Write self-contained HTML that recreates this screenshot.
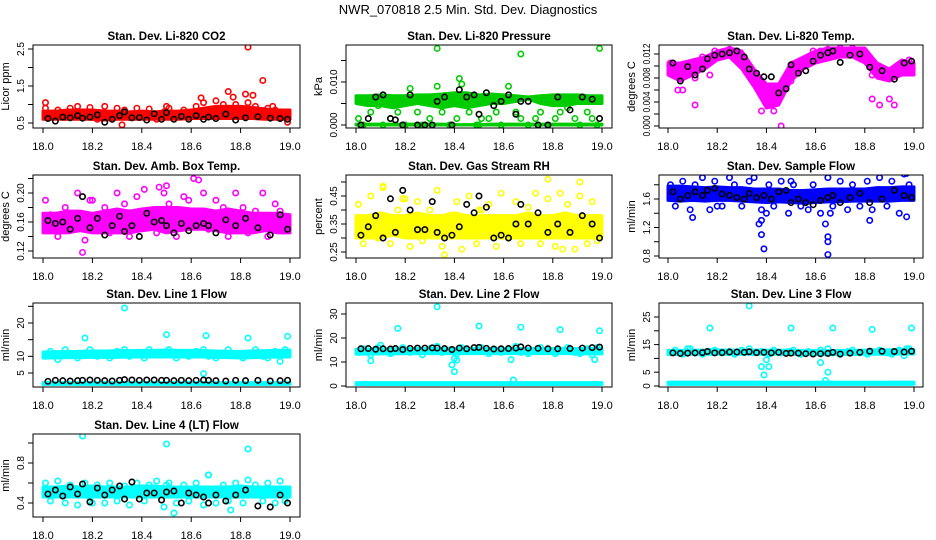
<!DOCTYPE html>
<html><head><meta charset="utf-8"><style>
body{margin:0;background:#fff}
svg{display:block;font-family:"Liberation Sans",sans-serif}
</style></head><body>
<svg id="c" width="936" height="540" viewBox="0 0 936 540">
<text x="468" y="14" text-anchor="middle" font-size="13">NWR_070818  2.5 Min. Std. Dev. Diagnostics</text>
</svg>
<script>
// shared time bases (hours)
const tBand=[18.0,18.05,18.1,18.15,18.2,18.25,18.3,18.35,18.4,18.45,18.5,18.55,18.6,18.65,18.7,18.75,18.8,18.85,18.9,18.95,19.0];
const tColor=[18.01,18.03,18.06,18.09,18.11,18.14,18.17,18.19,18.22,18.25,18.27,18.30,18.33,18.35,18.38,18.41,18.43,18.46,18.49,18.51,18.54,18.57,18.59,18.62,18.65,18.67,18.70,18.73,18.75,18.78,18.81,18.83,18.86,18.89,18.91,18.94,18.96,18.98,18.50,18.20];
const tBlack=[18.02,18.05,18.08,18.11,18.14,18.16,18.19,18.22,18.25,18.28,18.31,18.33,18.36,18.39,18.42,18.45,18.48,18.50,18.53,18.56,18.59,18.62,18.65,18.67,18.70,18.74,18.78,18.82,18.87,18.92,18.96,18.99];
const xTicks=[18.0,18.2,18.4,18.6,18.8,19.0];
const xTickLabels=["18.0","18.2","18.4","18.6","18.8","19.0"];

// CO2
const co2Lo=[0.6,0.6,0.6,0.6,0.6,0.58,0.6,0.6,0.6,0.6,0.6,0.6,0.62,0.62,0.62,0.62,0.62,0.62,0.6,0.6,0.6];
const co2Hi=[0.82,0.82,0.85,0.85,0.85,0.82,0.82,0.8,0.82,0.8,0.82,0.82,0.85,0.9,0.95,0.95,0.95,0.92,0.88,0.85,0.85];
const co2Color=[0.9,0.7,0.85,0.65,0.9,0.95,0.7,0.92,0.6,0.95,0.75,0.9,0.85,0.65,0.9,0.7,0.88,0.6,0.8,0.9,0.7,0.85,0.65,0.95,1.05,0.8,1.1,1.0,0.9,1.0,0.85,1.05,0.95,0.75,0.9,0.85,0.8,0.7,0.95,0.65];
const co2Black=[0.62,0.55,0.66,0.64,0.7,0.63,0.66,0.72,0.52,0.6,0.7,0.8,0.64,0.65,0.58,0.75,0.6,0.78,0.6,0.68,0.6,0.7,0.6,0.66,0.62,0.74,0.58,0.64,0.67,0.63,0.62,0.6];
const co2OutX=[18.01,18.32,18.64,18.75,18.77,18.82,18.83,18.85,18.89,18.93,18.99];
const co2OutY=[1.05,0.45,1.18,1.35,1.2,1.28,2.55,1.25,1.65,0.95,0.52];
// Pressure
const prLo=[0.005,0.0045,0.0045,0.004,0.0045,0.005,0.0045,0.004,0.0045,0.004,0.0045,0.005,0.005,0.0055,0.006,0.005,0.0045,0.0045,0.005,0.005,0.005];
const prHi=[0.0068,0.0068,0.007,0.0068,0.0068,0.007,0.007,0.0072,0.0075,0.0075,0.007,0.0072,0.007,0.0068,0.0065,0.0068,0.007,0.007,0.007,0.0068,0.0068];
const prZeroLo=[0,0,0,0,0,0,0,0,0,0,0,0,0,0,0,0,0,0,0,0,0];
const prZeroHi=[0.0002,0.0002,0.0002,0.0002,0.0002,0.0002,0.0002,0.0002,0.0001,0.0001,0.0001,0.0002,0.0002,0.0002,0.0002,0.0002,0.0002,0.0002,0.0002,0.0002,0.0002];
const prColor=[0.0015,0.0,0.003,0.0045,0.0,0.0015,0.003,0.0,0.0085,0.003,0.0,0.0015,0.009,0.003,0.0,0.0015,0.0095,0.003,0.0,0.0015,0.0015,0.003,0.0,0.009,0.003,0.0015,0.0,0.0015,0.003,0.0,0.0015,0.003,0.004,0.0015,0.0,0.003,0.0015,0.0,0.0,0.0];
const prBlack=[0.0,0.0015,0.0065,0.007,0.0015,0.0012,0.0,0.007,0.0,0.0,0.0,0.0055,0.0065,0.0,0.0082,0.0065,0.007,0.0025,0.0075,0.0045,0.0055,0.007,0.0025,0.0055,0.0055,0.0,0.0,0.0065,0.0035,0.0065,0.006,0.0015];
const prOutX=[18.33,18.67,18.99,18.42];
const prOutY=[0.0178,0.0165,0.0178,0.0108];
// Li-820 Temp
const tmLo=[0.0085,0.0075,0.0085,0.0095,0.011,0.0115,0.0095,0.0065,0.003,0.0035,0.0075,0.0095,0.0105,0.011,0.0115,0.0115,0.0105,0.008,0.0075,0.0085,0.0085];
const tmHi=[0.0105,0.0105,0.011,0.0115,0.0125,0.013,0.0125,0.0095,0.007,0.007,0.0105,0.0115,0.0125,0.013,0.013,0.013,0.013,0.0105,0.0095,0.011,0.0105];
const tmColor=[0.0105,0.009,0.0095,0.0105,0.008,0.0115,0.0085,0.0125,0.012,0.0128,0.0125,0.011,0.0085,0.008,0.0055,0.0045,0.004,0.005,0.009,0.0095,0.0105,0.0115,0.0125,0.0125,0.0128,0.0125,0.013,0.0125,0.013,0.0125,0.011,0.0085,0.0095,0.008,0.009,0.0095,0.0105,0.011,0.0075,0.0115];
const tmBlack=[0.0105,0.0075,0.0099,0.0085,0.0095,0.0112,0.0118,0.012,0.0122,0.0125,0.0115,0.0095,0.0088,0.0082,0.0082,0.0055,0.0062,0.0102,0.0088,0.0092,0.0108,0.0118,0.0122,0.0125,0.0106,0.0118,0.012,0.0098,0.0092,0.0078,0.0105,0.0108];
const tmOutX=[18.11,18.46,18.86,18.83,18.90,18.92,18.04,18.06,18.38,18.43];
const tmOutY=[0.0035,0.0,0.0035,0.0045,0.0045,0.0035,0.006,0.006,0.0025,0.0025];
// Amb box temp
const abLo=[0.145,0.145,0.145,0.148,0.145,0.145,0.145,0.145,0.148,0.15,0.145,0.148,0.15,0.15,0.148,0.145,0.145,0.145,0.148,0.145,0.145];
const abHi=[0.172,0.172,0.175,0.175,0.172,0.175,0.178,0.175,0.178,0.18,0.18,0.18,0.178,0.178,0.175,0.178,0.175,0.172,0.172,0.172,0.17];
const abColor=[0.19,0.17,0.14,0.18,0.155,0.2,0.135,0.19,0.17,0.18,0.145,0.2,0.185,0.14,0.195,0.205,0.175,0.145,0.2,0.185,0.14,0.195,0.19,0.175,0.2,0.15,0.19,0.18,0.14,0.2,0.18,0.145,0.175,0.2,0.14,0.185,0.175,0.15,0.21,0.19];
const abBlack=[0.162,0.158,0.16,0.15,0.165,0.195,0.152,0.165,0.142,0.155,0.168,0.147,0.155,0.14,0.172,0.16,0.162,0.155,0.145,0.158,0.148,0.155,0.158,0.155,0.145,0.163,0.155,0.165,0.152,0.142,0.17,0.15];
const abOutX=[18.61,18.63,18.16,18.47];
const abOutY=[0.22,0.218,0.118,0.208];
// Gas stream RH
const rhLo=[0.3,0.3,0.3,0.31,0.3,0.3,0.3,0.3,0.3,0.3,0.3,0.3,0.3,0.3,0.3,0.3,0.3,0.3,0.3,0.3,0.3];
const rhHi=[0.38,0.38,0.39,0.38,0.38,0.39,0.38,0.38,0.39,0.38,0.38,0.38,0.38,0.38,0.39,0.38,0.38,0.39,0.38,0.38,0.38];
const rhColor=[0.42,0.28,0.45,0.3,0.48,0.28,0.4,0.44,0.27,0.43,0.29,0.4,0.47,0.27,0.38,0.43,0.26,0.45,0.28,0.4,0.42,0.27,0.46,0.3,0.43,0.28,0.41,0.46,0.28,0.44,0.27,0.46,0.42,0.26,0.45,0.28,0.43,0.29,0.4,0.44];
const rhBlack=[0.31,0.34,0.38,0.3,0.44,0.32,0.47,0.4,0.33,0.33,0.43,0.32,0.3,0.31,0.34,0.42,0.39,0.45,0.41,0.3,0.31,0.3,0.35,0.42,0.35,0.39,0.32,0.35,0.32,0.38,0.35,0.3];
const rhOutX=[18.36,18.78,18.91,18.11,18.84];
const rhOutY=[0.24,0.51,0.5,0.485,0.26];
// Sample flow
const sfLo=[1.58,1.57,1.58,1.57,1.58,1.58,1.57,1.56,1.55,1.56,1.55,1.54,1.55,1.56,1.56,1.57,1.57,1.57,1.57,1.58,1.58];
const sfHi=[1.78,1.78,1.77,1.76,1.77,1.76,1.76,1.74,1.74,1.74,1.72,1.72,1.73,1.74,1.74,1.74,1.74,1.76,1.76,1.77,1.77];
const sfColor=[1.8,1.5,1.85,1.45,1.8,1.9,1.45,1.85,1.5,1.9,1.8,1.5,1.85,1.9,1.45,1.8,1.5,1.85,1.4,1.8,1.5,1.45,1.8,1.4,1.9,1.5,1.85,1.45,1.8,1.5,1.85,1.45,1.9,1.5,1.85,1.4,1.95,1.8,1.85,1.5];
const sfBlack=[1.7,1.6,1.65,1.7,1.65,1.72,1.75,1.67,1.65,1.62,1.6,1.68,1.62,1.65,1.6,1.7,1.72,1.55,1.6,1.55,1.52,1.58,1.62,1.65,1.55,1.62,1.68,1.55,1.6,1.72,1.65,1.62];
const sfOutX=[18.1,18.37,18.38,18.39,18.38,18.65,18.65,18.65,18.64,18.82,18.97,18.97,18.40,18.66];
const sfOutY=[1.34,1.25,1.1,0.9,1.3,0.82,1.0,1.07,1.25,1.3,1.35,1.96,1.4,1.4];
// Line 1 flow
const l1Lo=[9.5,9.5,9.6,9.6,9.7,9.7,9.7,9.8,9.8,9.8,9.8,9.8,9.8,9.8,9.7,9.6,9.5,9.6,9.7,9.8,9.8];
const l1Hi=[11.3,11.4,11.4,11.5,11.6,11.6,11.7,11.7,11.8,11.8,11.9,11.8,11.8,11.7,11.6,11.5,11.5,11.6,11.7,11.8,11.9];
const l1ZeroLo=[1.6,1.6,1.6,1.6,1.6,1.6,1.6,1.6,1.6,1.6,1.6,1.6,1.6,1.6,1.6,1.6,1.6,1.6,1.6,1.6,1.6];
const l1ZeroHi=[2.1,2.1,2.1,2.1,2.1,2.1,2.1,2.1,2.1,2.1,2.1,2.1,2.1,2.1,2.1,2.1,2.1,2.1,2.1,2.1,2.1];
const l1Color=[10,11.5,9,12,10.5,9.5,11,12,10,11,9.5,11.5,12,10,11,9.5,12,10.5,11,12,9.5,11,10,11.5,12,10,9.5,11,12,10.5,9.5,11,12,10,9.5,11.5,8.5,12,10.5,11];
const l1Black=[2.5,2.8,2.7,2.6,2.7,2.8,2.9,2.8,2.7,2.6,2.8,3.0,2.9,2.8,2.9,2.9,2.8,2.8,2.7,2.8,2.7,2.8,2.9,2.8,2.7,2.6,2.8,2.7,2.8,2.6,2.7,2.8];
const l1OutX=[18.33,18.17,18.5,18.66,18.83,18.99,18.65];
const l1OutY=[24.5,15.5,16.5,16.2,15.5,16,4.8];
// Line 2 flow
const l2Lo=[13.3,13.3,13.4,13.4,13.5,13.5,13.5,13.5,13.5,13.5,13.5,13.5,13.5,13.5,13.5,13.5,13.5,13.5,13.5,13.4,13.4];
const l2Hi=[15.3,15.4,15.4,15.5,15.5,15.6,15.6,15.6,15.6,15.6,15.6,15.6,15.6,15.6,15.6,15.6,15.6,15.6,15.6,15.6,15.6];
const l2ZeroLo=[0.6,0.6,0.6,0.6,0.6,0.6,0.6,0.6,0.6,0.6,0.6,0.6,0.6,0.6,0.6,0.6,0.6,0.6,0.6,0.6,0.6];
const l2ZeroHi=[1.4,1.4,1.4,1.4,1.4,1.4,1.4,1.4,1.4,1.4,1.4,1.4,1.4,1.4,1.4,1.4,1.4,1.4,1.4,1.4,1.4];
const l2Color=[14,15.5,13,16,14.5,13.5,15,16,14,15,13,15.5,16.5,14,15,13.5,16,14.5,15,16,13.5,15,14,15.5,16.5,14,13.5,15,16,14.5,13.5,15,16,14,13.5,15.5,13,16,14.5,15];
const l2Black=[15.5,15.6,15.3,15.5,15.4,15.6,15.2,15.7,15.8,15.8,15.9,15.8,15.6,15.2,15.8,15.5,16,16.1,15.7,15.4,15.5,15.6,15.8,16.3,15.8,15.7,15.5,15.5,15.6,15.8,16,16.2];
const l2OutX=[18.33,18.17,18.5,18.67,18.83,18.99,18.06,18.39,18.40,18.40,18.41,18.63,18.64,18.97,18.10];
const l2OutY=[33,24,25,24.5,23.5,23,10.5,8.8,6,11.5,10.8,11,2.5,11,17];
// Line 3 flow
const l3Lo=[11.4,11.4,11.5,11.5,11.5,11.5,11.5,11.5,11.5,11.5,11.4,11.4,11.3,11.3,11.4,11.4,11.5,11.5,11.5,11.6,11.6];
const l3Hi=[12.9,12.9,13,13,13,13,13,13,13,13,12.9,12.8,12.8,12.8,12.9,12.9,13,13.1,13.1,13.2,13.2];
const l3ZeroLo=[0.6,0.6,0.6,0.6,0.6,0.6,0.6,0.6,0.6,0.6,0.6,0.6,0.6,0.6,0.6,0.6,0.6,0.6,0.6,0.6,0.6];
const l3ZeroHi=[1.4,1.4,1.4,1.4,1.4,1.4,1.4,1.4,1.4,1.4,1.4,1.4,1.4,1.4,1.4,1.4,1.4,1.4,1.4,1.4,1.4];
const l3Color=[12,13,11.5,13.5,12,11.5,12.5,13,12,12.5,11.5,13,13.5,12,12.5,11.5,13,12,12.5,13,11.5,12.5,12,13,13.5,12,11.5,12.5,13,12,11.5,12.5,13,12,11.5,13,11,13.5,12,12.5];
const l3Black=[12,11.8,11.9,12,12.1,12.5,12,12.1,12.3,12.3,12.2,12.4,12.1,12.2,12,12.2,11.8,11.9,11.9,11.7,11.6,11.7,11.8,12.2,11.6,11.9,12.2,12.6,12.6,12.5,12.3,12.6];
const l3OutX=[18.33,18.17,18.5,18.67,18.83,18.99,18.38,18.39,18.40,18.41,18.62,18.65,18.64,18.08,18.97];
const l3OutY=[29,21,21,21,20.5,21,7,4,9.5,7,8.5,5,2,13.5,13.5];
// Line 4 (LT) flow
const l4Lo=[0.46,0.46,0.46,0.46,0.46,0.46,0.46,0.46,0.46,0.46,0.46,0.46,0.46,0.46,0.46,0.46,0.46,0.46,0.46,0.46,0.46];
const l4Hi=[0.56,0.56,0.57,0.56,0.57,0.56,0.56,0.56,0.57,0.57,0.56,0.56,0.56,0.56,0.56,0.56,0.57,0.56,0.56,0.56,0.56];
const l4Color=[0.6,0.42,0.62,0.4,0.58,0.38,0.6,0.42,0.58,0.4,0.6,0.42,0.57,0.38,0.6,0.42,0.58,0.62,0.36,0.6,0.4,0.58,0.42,0.6,0.38,0.68,0.4,0.58,0.42,0.6,0.4,0.63,0.58,0.42,0.6,0.4,0.62,0.42,0.58,0.4];
const l4Black=[0.49,0.53,0.47,0.56,0.49,0.59,0.41,0.55,0.48,0.53,0.57,0.44,0.61,0.44,0.5,0.5,0.43,0.51,0.52,0.4,0.5,0.48,0.46,0.4,0.48,0.42,0.48,0.53,0.37,0.36,0.48,0.4];
const l4OutX=[18.16,18.5,18.83,18.53,18.76,18.67];
const l4OutY=[1.07,0.99,0.94,0.3,0.33,0.68];

const cols=[{l:33,r:300,x0:43,x1:290},{l:346,r:612,x0:356,x1:602},{l:659,r:923,x0:668,x1:914}];
const rows=[{t:45,b:128},{t:175,b:258},{t:303,b:387},{t:434,b:517}];
const panels=[
 {name:"co2",title:"Stan. Dev. Li-820 CO2",yl:"Licor ppm",c:0,r:0,color:"#ff0000",v0:0.5,p0:123,v1:2.5,p1:49,ticks:[0.5,1,1.5,2,2.5],labs:["0.5","","1.5","","2.5"],lo:co2Lo,hi:co2Hi,col:co2Color,blk:co2Black,ox:co2OutX,oy:co2OutY},
 {name:"pressure",title:"Stan. Dev. Li-820 Pressure",yl:"kPa",c:1,r:0,color:"#00cc00",v0:0,p0:125,v1:0.01,p1:82,ticks:[0,0.005,0.01,0.015],labs:["0.000","","0.010",""],lo:prLo,hi:prHi,zlo:prZeroLo,zhi:prZeroHi,col:prColor,blk:prBlack,ox:prOutX,oy:prOutY},
 {name:"li820-temp",title:"Stan. Dev. Li-820 Temp.",yl:"degrees C",c:2,r:0,color:"#ff00ff",v0:0,p0:126,v1:0.012,p1:54,ticks:[0,0.002,0.004,0.006,0.008,0.01,0.012],labs:["0.000","","0.004","","0.008","","0.012"],narrow:true,lo:tmLo,hi:tmHi,col:tmColor,blk:tmBlack,ox:tmOutX,oy:tmOutY},
 {name:"amb-box-temp",title:"Stan. Dev. Amb. Box Temp.",yl:"degrees C",c:0,r:1,color:"#ff00ff",v0:0.12,p0:251,v1:0.2,p1:193,ticks:[0.12,0.14,0.16,0.18,0.2,0.22],labs:["0.12","","0.16","","0.20",""],lo:abLo,hi:abHi,col:abColor,blk:abBlack,ox:abOutX,oy:abOutY},
 {name:"gas-stream-rh",title:"Stan. Dev. Gas Stream RH",yl:"percent",c:1,r:1,color:"#ffff00",v0:0.25,p0:252,v1:0.45,p1:196,ticks:[0.25,0.3,0.35,0.4,0.45,0.5],labs:["0.25","","0.35","","0.45",""],lo:rhLo,hi:rhHi,col:rhColor,blk:rhBlack,ox:rhOutX,oy:rhOutY},
 {name:"sample-flow",title:"Stan. Dev. Sample Flow",yl:"ml/min",c:2,r:1,color:"#0000ff",v0:0.8,p0:256,v1:1.6,p1:199,ticks:[0.8,1.0,1.2,1.4,1.6,1.8],labs:["0.8","","1.2","","1.6",""],lo:sfLo,hi:sfHi,col:sfColor,blk:sfBlack,ox:sfOutX,oy:sfOutY},
 {name:"line1-flow",title:"Stan. Dev. Line 1 Flow",yl:"ml/min",c:0,r:2,color:"#00ffff",v0:5,p0:373,v1:20,p1:323,ticks:[5,10,15,20,25],labs:["5","10","","20",""],lo:l1Lo,hi:l1Hi,zlo:l1ZeroLo,zhi:l1ZeroHi,col:l1Color,blk:l1Black,ox:l1OutX,oy:l1OutY},
 {name:"line2-flow",title:"Stan. Dev. Line 2 Flow",yl:"ml/min",c:1,r:2,color:"#00ffff",v0:0,p0:386,v1:30,p1:314,ticks:[0,10,20,30],labs:["0","10","20","30"],lo:l2Lo,hi:l2Hi,zlo:l2ZeroLo,zhi:l2ZeroHi,col:l2Color,blk:l2Black,ox:l2OutX,oy:l2OutY},
 {name:"line3-flow",title:"Stan. Dev. Line 3 Flow",yl:"ml/min",c:2,r:2,color:"#00ffff",v0:0,p0:386,v1:25,p1:317,ticks:[0,5,10,15,20,25],labs:["0","5","","15","","25"],lo:l3Lo,hi:l3Hi,zlo:l3ZeroLo,zhi:l3ZeroHi,col:l3Color,blk:l3Black,ox:l3OutX,oy:l3OutY},
 {name:"line4-flow",title:"Stan. Dev. Line 4 (LT) Flow",yl:"ml/min",c:0,r:3,color:"#00ffff",v0:0.4,p0:503,v1:0.8,p1:463,ticks:[0.4,0.6,0.8,1.0],labs:["0.4","","0.8",""],lo:l4Lo,hi:l4Hi,col:l4Color,blk:l4Black,ox:l4OutX,oy:l4OutY}
];
const NS="http://www.w3.org/2000/svg";
const svg=document.getElementById('c');
function mk(tag,attrs,parent,txt){const e=document.createElementNS(NS,tag);for(const k in attrs)e.setAttribute(k,attrs[k]);if(txt!==undefined)e.textContent=txt;parent.appendChild(e);return e;}
panels.forEach(p=>{
 const C=cols[p.c],R=rows[p.r];
 const xs=t=>C.x0+(t-18)*(C.x1-C.x0);
 const ys=v=>p.p0+(v-p.v0)*(p.p1-p.p0)/(p.v1-p.v0);
 const g=mk('g',{},svg);
 
 
 const clipId='clip-'+p.name;
 const cp=mk('clipPath',{id:clipId},g);
 mk('rect',{x:C.l,y:R.t,width:C.r-C.l,height:R.b-R.t},cp);
 const plot=mk('g',{'clip-path':'url(#'+clipId+')'},g);
 function band(lo,hi,nm){
  let pts=tBand.map((t,i)=>xs(t)+','+ys(hi[i]));
  for(let i=tBand.length-1;i>=0;i--)pts.push(xs(tBand[i])+','+ys(lo[i]));
  const e=mk('polygon',{points:pts.join(' '),fill:p.color,stroke:p.color,'stroke-width':3,'stroke-linejoin':'round'},plot);
  
  
 }
 band(p.lo,p.hi,p.name+'-dense-band');
 if(p.zlo)band(p.zlo,p.zhi,p.name+'-baseline-band');
 function pt(x,y,color,nm){
  const e=mk('circle',{cx:xs(x),cy:ys(y),r:2.7,fill:'none',stroke:color,'stroke-width':1.6},plot);
  
  
 }
 p.col.forEach((v,i)=>pt(tColor[i],v,p.color,p.name+'-point'));
 p.ox.forEach((x,i)=>pt(x,p.oy[i],p.color,p.name+'-outlier'));
 p.blk.forEach((v,i)=>pt(tBlack[i],v,'#000',p.name+'-avg-point'));
 const box=mk('rect',{x:C.l,y:R.t,width:C.r-C.l,height:R.b-R.t,fill:'none',stroke:'#000','stroke-width':1},g);
 
 
 const tt=mk('text',{x:(C.l+C.r)/2,y:R.t-5,'text-anchor':'middle','font-size':11.5,'font-weight':'bold'},g,p.title);
 
 
 xTicks.forEach((t,i)=>{
  mk('line',{x1:xs(t),x2:xs(t),y1:R.b,y2:R.b+5,stroke:'#000'},g);
  const e=mk('text',{x:xs(t),y:R.b+22,'text-anchor':'middle','font-size':11},g,xTickLabels[i]);
  
  
 });
 p.ticks.forEach((v,i)=>{
  const y=ys(v);
  mk('line',{x1:C.l-5,x2:C.l,y1:y,y2:y,stroke:'#000'},g);
  if(p.labs[i]){
   const at={x:C.l-9,y:y,'text-anchor':'middle','font-size':10,transform:'rotate(-90 '+(C.l-9)+' '+y+')'};
   if(p.narrow){at.textLength=21;at.lengthAdjust='spacingAndGlyphs';}
   const e=mk('text',at,g,p.labs[i]);
   
   
  }
 });
 const yc=(R.t+R.b)/2,xl=C.l-24;
 const yt=mk('text',{x:xl,y:yc,'text-anchor':'middle','font-size':11,transform:'rotate(-90 '+xl+' '+yc+')'},g,p.yl);
 
 
});
</script>
</body></html>
